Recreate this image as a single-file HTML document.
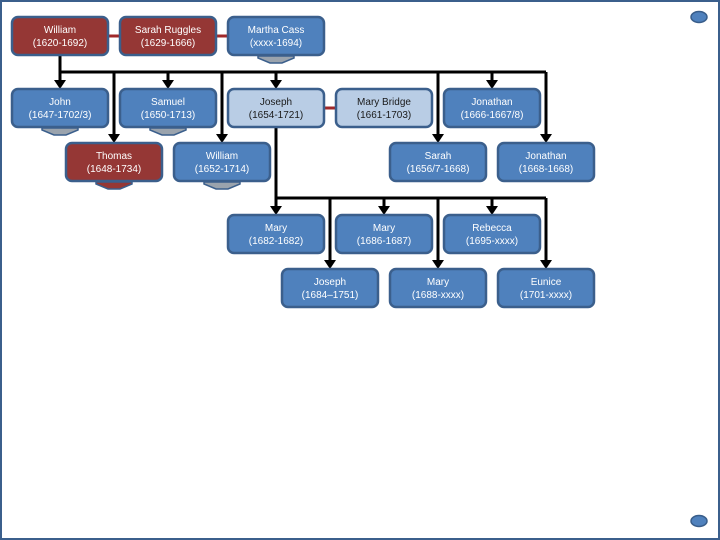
<!DOCTYPE html>
<html><head><meta charset="utf-8"><style>
html,body{margin:0;padding:0;background:#fff}
svg{display:block}
text{font-family:"Liberation Sans",sans-serif;font-size:10px;text-anchor:middle}
</style></head><body>
<svg width="720" height="540" viewBox="0 0 720 540" xmlns="http://www.w3.org/2000/svg">
<defs>
<marker id="a" markerWidth="8" markerHeight="8" refX="4" refY="6" orient="auto" markerUnits="userSpaceOnUse">
</marker>
</defs>
<rect x="1" y="1" width="718" height="538" fill="#fff" stroke="#3b5f8c" stroke-width="2"/>
<ellipse cx="699" cy="17" rx="8" ry="5.5" fill="#4f81bd" stroke="#385d8a" stroke-width="1.5"/>
<ellipse cx="699" cy="521" rx="8" ry="5.5" fill="#4f81bd" stroke="#385d8a" stroke-width="1.5"/>
<!-- red spouse links -->
<g stroke="#a0282a" stroke-width="3">
<line x1="108" y1="36" x2="120" y2="36"/><line x1="216" y1="36" x2="228" y2="36"/><line x1="324" y1="108" x2="336" y2="108"/>
</g>
<!-- chevrons -->
<g stroke="#3b5f8c" stroke-width="1.5">
<path d="M258 56 L294 56 L294 58 L282 63 L270 63 L258 58Z" fill="#9aa3ad"/>
<path d="M42 128 L78 128 L78 130 L66 135 L54 135 L42 130Z" fill="#9aa3ad"/>
<path d="M150 128 L186 128 L186 130 L174 135 L162 135 L150 130Z" fill="#9aa3ad"/>
<path d="M96 182 L132 182 L132 184 L120 189 L108 189 L96 184Z" fill="#953735"/>
<path d="M204 182 L240 182 L240 184 L228 189 L216 189 L204 184Z" fill="#9aa3ad"/>
</g>
<!-- connectors -->
<g stroke="#000" stroke-width="3" fill="none">
<path d="M60 55 V72 M60 72 H546"/>
<path d="M60 72 V82 M114 72 V136 M168 72 V82 M222 72 V136 M276 72 V82 M438 72 V136 M492 72 V82 M546 72 V136"/>
<path d="M276 127 V198 H546"/>
<path d="M276 198 V208 M330 198 V262 M384 198 V208 M438 198 V262 M492 198 V208 M546 198 V262"/>
</g>
<g fill="#000">
<path d="M54 80 L66 80 L60 89Z"/><path d="M108 134 L120 134 L114 143Z"/><path d="M162 80 L174 80 L168 89Z"/><path d="M216 134 L228 134 L222 143Z"/>
<path d="M270 80 L282 80 L276 89Z"/><path d="M432 134 L444 134 L438 143Z"/><path d="M486 80 L498 80 L492 89Z"/><path d="M540 134 L552 134 L546 143Z"/>
<path d="M270 206 L282 206 L276 215Z"/><path d="M324 260 L336 260 L330 269Z"/><path d="M378 206 L390 206 L384 215Z"/><path d="M432 260 L444 260 L438 269Z"/><path d="M486 206 L498 206 L492 215Z"/><path d="M540 260 L552 260 L546 269Z"/>
</g>
<!-- boxes -->
<g stroke="#3b5f8c" stroke-width="2.5">
<rect x="12" y="17" width="96" height="38" rx="6" fill="#953735"/>
<rect x="120" y="17" width="96" height="38" rx="6" fill="#953735"/>
<rect x="228" y="17" width="96" height="38" rx="6" fill="#4f81bd"/>
<rect x="12" y="89" width="96" height="38" rx="6" fill="#4f81bd"/>
<rect x="120" y="89" width="96" height="38" rx="6" fill="#4f81bd"/>
<rect x="228" y="89" width="96" height="38" rx="6" fill="#b9cde5"/>
<rect x="336" y="89" width="96" height="38" rx="6" fill="#b9cde5"/>
<rect x="444" y="89" width="96" height="38" rx="6" fill="#4f81bd"/>
<rect x="66" y="143" width="96" height="38" rx="6" fill="#953735"/>
<rect x="174" y="143" width="96" height="38" rx="6" fill="#4f81bd"/>
<rect x="390" y="143" width="96" height="38" rx="6" fill="#4f81bd"/>
<rect x="498" y="143" width="96" height="38" rx="6" fill="#4f81bd"/>
<rect x="228" y="215" width="96" height="38" rx="6" fill="#4f81bd"/>
<rect x="336" y="215" width="96" height="38" rx="6" fill="#4f81bd"/>
<rect x="444" y="215" width="96" height="38" rx="6" fill="#4f81bd"/>
<rect x="282" y="269" width="96" height="38" rx="6" fill="#4f81bd"/>
<rect x="390" y="269" width="96" height="38" rx="6" fill="#4f81bd"/>
<rect x="498" y="269" width="96" height="38" rx="6" fill="#4f81bd"/>
</g>
<g fill="#fff">
<text x="60" y="33">William</text><text x="60" y="46">(1620-1692)</text>
<text x="168" y="33">Sarah Ruggles</text><text x="168" y="46">(1629-1666)</text>
<text x="276" y="33">Martha Cass</text><text x="276" y="46">(xxxx-1694)</text>
<text x="60" y="105">John</text><text x="60" y="118">(1647-1702/3)</text>
<text x="168" y="105">Samuel</text><text x="168" y="118">(1650-1713)</text>
<text x="492" y="105">Jonathan</text><text x="492" y="118">(1666-1667/8)</text>
<text x="114" y="159">Thomas</text><text x="114" y="172">(1648-1734)</text>
<text x="222" y="159">William</text><text x="222" y="172">(1652-1714)</text>
<text x="438" y="159">Sarah</text><text x="438" y="172">(1656/7-1668)</text>
<text x="546" y="159">Jonathan</text><text x="546" y="172">(1668-1668)</text>
<text x="276" y="231">Mary</text><text x="276" y="244">(1682-1682)</text>
<text x="384" y="231">Mary</text><text x="384" y="244">(1686-1687)</text>
<text x="492" y="231">Rebecca</text><text x="492" y="244">(1695-xxxx)</text>
<text x="330" y="285">Joseph</text><text x="330" y="298">(1684–1751)</text>
<text x="438" y="285">Mary</text><text x="438" y="298">(1688-xxxx)</text>
<text x="546" y="285">Eunice</text><text x="546" y="298">(1701-xxxx)</text>
</g>
<g fill="#1a1a1a">
<text x="276" y="105">Joseph</text><text x="276" y="118">(1654-1721)</text>
<text x="384" y="105">Mary Bridge</text><text x="384" y="118">(1661-1703)</text>
</g>
</svg>
</body></html>
